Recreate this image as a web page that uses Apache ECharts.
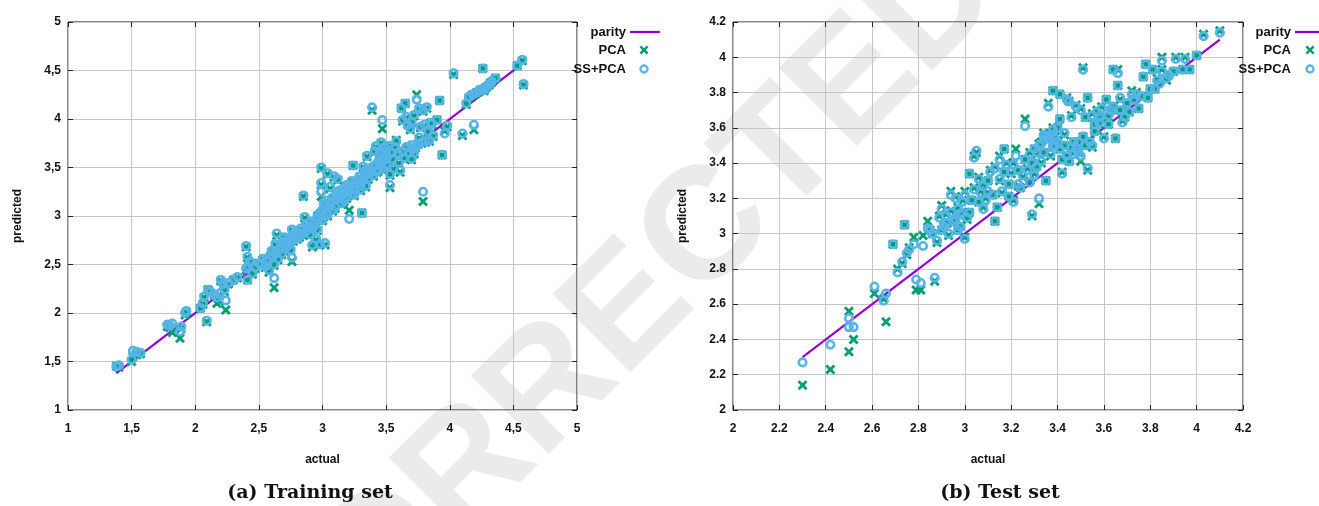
<!DOCTYPE html>
<html>
<head>
<meta charset="utf-8">
<script src="https://cdn.jsdelivr.net/npm/echarts@6/dist/echarts.min.js"></script>
<style>
  html, body { margin: 0; padding: 0; background: #fff; }
  #chart { width: 1319px; height: 506px; }
</style>
</head>
<body>
<div id="chart"></div>
<script>
// ---- training set: actual value, PCA prediction, SS+PCA prediction ----
const trainActual = [1.38,1.40,1.50,1.51,1.54,1.57,1.78,1.80,1.82,1.88,1.89,1.92,1.93,2.04,2.06,2.09,2.07,2.10,2.12,2.15,2.17,2.19,2.20,2.22,2.24,2.23,2.26,2.30,2.33,2.40,2.41,2.40,2.41,2.42,2.43,2.50,2.52,2.55,2.57,2.58,2.59,2.60,2.62,2.62,2.63,2.64,2.65,2.66,2.68,2.69,2.70,2.72,2.74,2.75,2.76,2.76,2.78,2.80,2.81,2.83,2.85,2.86,2.87,2.88,2.90,2.91,2.92,2.93,2.95,2.96,2.97,2.98,2.99,2.99,2.99,3.00,3.01,3.02,3.02,3.03,3.04,3.05,3.06,3.07,3.08,3.09,3.10,3.12,3.12,3.13,3.15,3.16,3.18,3.19,3.20,3.21,3.22,3.23,3.24,3.25,3.26,3.28,3.30,3.31,3.32,3.33,3.34,3.35,3.36,3.38,3.39,3.40,3.41,3.42,3.43,3.44,3.46,3.47,3.47,3.48,3.49,3.50,3.52,3.53,3.53,3.55,3.56,3.58,3.59,3.60,3.61,3.62,3.64,3.65,3.66,3.67,3.68,3.69,3.70,3.71,3.73,3.74,3.75,3.76,3.77,3.78,3.79,3.80,3.81,3.82,3.84,3.85,3.87,3.90,3.92,3.94,3.96,3.98,4.03,4.10,4.13,4.15,4.19,4.21,4.24,4.26,4.27,4.29,4.31,4.33,4.36,4.53,4.57,4.58,
  2.56,2.61,2.63,2.67,2.71,2.73,2.77,2.79,2.82,2.84,2.89,2.94,2.96,2.98,3.00,3.01,3.03,3.04,3.06,3.08,3.10,3.11,3.14,3.16,3.17,3.19,3.21,3.23,3.25,3.27,3.29,3.30,3.32,3.34,3.35,3.37,3.40,3.42,3.44,3.45,3.46,3.48,3.50,3.51,3.54,3.57,3.60,3.63,3.66,3.70,3.72,3.76,2.45,2.47,2.53,3.63,3.72,3.79,3.86,3.83,3.70,4.18,4.23,4.28,4.32];
const trainPCA = [1.45,1.44,1.50,1.55,1.57,1.58,1.86,1.85,1.80,1.74,1.84,1.98,2.01,2.05,2.09,1.91,2.16,2.24,2.21,2.18,2.10,2.12,2.33,2.28,2.03,2.22,2.30,2.34,2.36,2.68,2.57,2.44,2.34,2.48,2.52,2.51,2.49,2.47,2.52,2.42,2.58,2.63,2.26,2.49,2.70,2.80,2.55,2.64,2.60,2.72,2.77,2.67,2.73,2.64,2.53,2.85,2.80,2.76,2.82,2.86,3.20,2.98,2.90,2.84,2.80,2.93,2.68,2.88,2.75,3.00,2.96,2.70,3.49,3.32,3.20,3.05,2.99,2.70,3.10,3.02,3.43,3.08,3.28,3.13,3.05,3.40,3.16,3.37,3.20,3.25,3.12,3.22,3.28,3.18,3.25,3.06,3.30,3.22,3.52,3.33,3.27,3.36,3.30,3.03,3.50,3.40,3.46,3.61,3.38,3.44,4.09,3.50,3.66,3.71,3.45,3.55,3.75,3.90,3.48,3.62,3.70,3.52,3.72,3.29,3.42,3.58,3.48,3.78,3.64,3.54,3.45,4.11,3.59,4.16,4.01,3.94,3.64,3.89,3.58,3.68,3.70,4.25,3.74,4.10,3.91,3.75,3.15,3.93,3.76,4.11,3.77,3.96,3.82,3.99,4.19,3.63,3.88,3.92,4.46,3.83,4.15,4.22,3.89,4.27,4.30,4.52,4.29,4.33,4.35,4.38,4.42,4.55,4.60,4.35,
  2.54,2.57,2.61,2.68,2.70,2.76,2.74,2.83,2.78,2.81,2.88,2.92,2.85,3.02,2.95,3.12,3.15,3.00,3.11,3.18,3.08,3.22,3.17,3.27,3.15,3.31,3.24,3.35,3.21,3.32,3.40,3.26,3.36,3.30,3.42,3.48,3.41,3.52,3.47,3.64,3.53,3.56,3.66,3.60,3.64,3.70,3.62,3.66,3.70,3.72,3.64,3.80,2.40,2.46,2.55,3.98,4.03,4.08,3.94,3.86,3.96,4.25,4.28,4.32,4.37];
const trainSS = [1.45,1.46,1.52,1.61,1.60,1.59,1.88,1.87,1.89,1.81,1.86,2.00,2.02,2.05,2.10,1.92,2.17,2.24,2.22,2.19,2.16,2.20,2.34,2.30,2.13,2.24,2.31,2.34,2.37,2.69,2.58,2.46,2.34,2.48,2.53,2.51,2.50,2.48,2.53,2.44,2.60,2.64,2.36,2.50,2.71,2.82,2.56,2.65,2.61,2.73,2.78,2.68,2.74,2.65,2.57,2.86,2.81,2.77,2.83,2.87,3.21,2.99,2.91,2.85,2.81,2.94,2.70,2.89,2.76,3.00,2.97,2.71,3.50,3.34,3.25,3.06,3.00,2.72,3.11,3.03,3.44,3.09,3.30,3.14,3.06,3.41,3.17,3.38,3.21,3.26,3.13,3.23,3.29,3.19,3.26,2.97,3.31,3.23,3.52,3.34,3.28,3.37,3.31,3.03,3.51,3.41,3.47,3.62,3.39,3.45,4.12,3.51,3.67,3.72,3.46,3.56,3.76,3.99,3.49,3.63,3.71,3.53,3.72,3.32,3.43,3.59,3.49,3.77,3.65,3.55,3.47,4.11,3.60,4.16,4.02,3.94,3.65,3.90,3.59,3.69,3.71,4.20,3.74,4.11,3.92,3.76,3.25,3.94,3.77,4.12,3.78,3.96,3.83,3.99,4.19,3.63,3.85,3.93,4.47,3.85,4.16,4.23,3.94,4.27,4.30,4.52,4.30,4.34,4.35,4.39,4.42,4.55,4.61,4.36,
  2.55,2.58,2.62,2.69,2.71,2.77,2.75,2.84,2.79,2.82,2.89,2.93,2.86,3.03,2.96,3.13,3.16,3.01,3.12,3.19,3.09,3.23,3.18,3.28,3.16,3.32,3.25,3.36,3.22,3.33,3.41,3.27,3.37,3.31,3.43,3.49,3.42,3.53,3.48,3.65,3.54,3.57,3.67,3.61,3.65,3.71,3.63,3.67,3.71,3.73,3.65,3.81,2.41,2.47,2.56,3.99,4.04,4.09,3.95,3.87,3.97,4.25,4.29,4.32,4.37];
const trainParity = [1.38, 4.52];

// ---- test set ----
const testActual = [2.30,2.42,2.50,2.50,2.52,2.61,2.65,2.66,2.69,2.71,2.73,2.74,2.75,2.76,2.78,2.79,2.81,2.82,2.84,2.85,2.87,2.88,2.89,2.90,2.91,2.92,2.93,2.94,2.95,2.96,2.97,2.98,2.98,2.99,3.00,3.00,3.01,3.02,3.03,3.04,3.05,3.06,3.07,3.08,3.09,3.10,3.11,3.13,3.13,3.14,3.15,3.16,3.17,3.18,3.19,3.20,3.21,3.22,3.23,3.24,3.25,3.26,3.27,3.28,3.29,3.29,3.30,3.31,3.32,3.32,3.33,3.34,3.35,3.36,3.36,3.37,3.38,3.38,3.39,3.40,3.41,3.41,3.42,3.42,3.43,3.44,3.45,3.45,3.46,3.46,3.47,3.48,3.49,3.50,3.50,3.51,3.52,3.53,3.53,3.54,3.55,3.56,3.57,3.58,3.60,3.61,3.62,3.63,3.64,3.65,3.66,3.66,3.67,3.68,3.69,3.71,3.72,3.73,3.75,3.77,3.78,3.79,3.81,3.82,3.84,3.85,3.85,3.87,3.88,3.90,3.91,3.94,3.95,3.97,4.00,4.03,4.10,
  3.02,3.04,3.06,3.08,3.10,3.12,3.15,3.17,3.19,3.21,3.23,3.26,3.28,3.30,3.31,3.33,3.34,3.35,3.37,3.38,3.39,3.40,3.41,3.43,3.44,3.47,3.48,3.49,3.51,3.52,3.55,3.56,3.58,3.59,3.62,3.64,3.67,3.70,3.74,3.76,3.80,3.83,2.86,2.90,2.92,2.94,2.96,2.97,2.99];
const testPCA = [2.14,2.23,2.56,2.33,2.40,2.66,2.63,2.50,2.94,2.80,2.83,3.05,2.88,2.92,2.98,2.68,2.68,2.99,3.07,3.02,2.73,2.95,3.10,3.16,3.04,3.11,2.99,3.24,3.06,3.21,3.15,3.10,3.04,3.19,2.98,3.24,3.08,3.34,3.19,3.44,3.46,3.32,3.24,3.15,3.20,3.23,3.36,3.38,3.07,3.15,3.44,3.23,3.48,3.40,3.21,3.34,3.19,3.48,3.27,3.26,3.32,3.65,3.37,3.30,3.10,3.40,3.34,3.45,3.17,3.51,3.40,3.57,3.30,3.53,3.74,3.44,3.60,3.81,3.49,3.53,3.79,3.65,3.42,3.35,3.56,3.77,3.41,3.75,3.49,3.67,3.46,3.73,3.52,3.71,3.41,3.94,3.66,3.77,3.36,3.53,3.49,3.62,3.70,3.62,3.55,3.76,3.66,3.70,3.93,3.54,3.93,3.84,3.76,3.64,3.66,3.69,3.81,3.76,3.71,3.89,3.96,3.77,3.93,3.82,3.86,4.00,3.93,3.87,3.90,3.92,4.00,3.93,4.00,3.93,4.01,4.13,4.15,
  3.12,3.26,3.18,3.28,3.30,3.22,3.30,3.35,3.28,3.40,3.36,3.42,3.46,3.48,3.38,3.52,3.46,3.55,3.56,3.50,3.55,3.60,3.48,3.50,3.44,3.52,3.48,3.46,3.55,3.50,3.68,3.58,3.66,3.72,3.62,3.72,3.70,3.74,3.80,3.78,3.82,3.88,3.00,3.02,3.06,3.13,3.08,3.02,3.12];
const testSS = [2.27,2.37,2.52,2.47,2.47,2.70,2.62,2.66,2.94,2.78,2.84,3.05,2.89,2.91,2.94,2.74,2.72,2.93,3.03,3.02,2.75,2.96,3.09,3.14,3.04,3.10,3.00,3.22,3.07,3.20,3.14,3.11,3.04,3.18,2.97,3.22,3.09,3.34,3.19,3.43,3.47,3.31,3.23,3.14,3.19,3.24,3.35,3.37,3.07,3.15,3.42,3.24,3.48,3.39,3.21,3.35,3.18,3.44,3.28,3.26,3.33,3.61,3.36,3.29,3.11,3.40,3.33,3.46,3.20,3.50,3.41,3.56,3.30,3.54,3.72,3.45,3.59,3.81,3.50,3.52,3.79,3.65,3.42,3.34,3.57,3.76,3.41,3.75,3.49,3.66,3.45,3.72,3.52,3.70,3.44,3.93,3.66,3.77,3.37,3.52,3.50,3.62,3.69,3.63,3.54,3.76,3.67,3.70,3.93,3.54,3.91,3.84,3.77,3.63,3.66,3.69,3.79,3.76,3.71,3.89,3.96,3.77,3.93,3.82,3.85,3.98,3.92,3.88,3.90,3.92,3.99,3.93,3.99,3.93,4.01,4.12,4.14,
  3.12,3.25,3.18,3.27,3.30,3.22,3.31,3.35,3.28,3.39,3.36,3.42,3.45,3.48,3.38,3.51,3.46,3.55,3.56,3.50,3.54,3.60,3.48,3.50,3.44,3.52,3.48,3.46,3.55,3.50,3.67,3.58,3.66,3.71,3.62,3.72,3.70,3.74,3.79,3.78,3.82,3.87,3.00,3.02,3.06,3.12,3.08,3.02,3.12];
const testParity = [2.30, 4.10];

// axis ranges and tick steps
const trainRange = { min: 1, max: 5, step: 0.5 };
const testRange = { min: 2, max: 4.2, step: 0.2 };

const PURPLE = '#9400d3', GREEN = '#009e73', BLUE = '#56b4e9';
const SANS = 'Liberation Sans, Arial, sans-serif';
// outline of a thick "x" on a 10x10 box
const CROSS_PTS = [[2,0],[5,3],[8,0],[10,2],[7,5],[10,8],[8,10],[5,7],[2,10],[0,8],[3,5],[0,2]];
const CROSS = 'path://M' + CROSS_PTS.map(p => p.join(',')).join('L') + 'Z';

const pairs = (xs, ys) => xs.map((x, i) => [x, ys[i]]);
const commaFmt = v => String(+v.toFixed(2)).replace('.', ',');
const dotFmt = v => String(+v.toFixed(2));

function valueAxis(range, idx, pos, fmt, name) {
  const horizontal = pos === 'bottom' || pos === 'top';
  const mirror = pos === 'top' || pos === 'right';
  return {
    type: 'value', gridIndex: idx, position: pos,
    min: range.min, max: range.max, interval: range.step,
    axisLine: { show: false },
    axisTick: { show: true, inside: true, length: 5, lineStyle: { color: '#222', width: 1 } },
    axisLabel: mirror ? { show: false } : {
      show: true, formatter: fmt, color: '#111', fontFamily: SANS, fontWeight: 'bold',
      fontSize: 12, margin: horizontal ? 13 : 7
    },
    splitLine: { show: !mirror, lineStyle: { color: '#c6c6c6', width: 1 } },
    name: mirror ? '' : name,
    nameLocation: 'middle',
    nameGap: 44,
    nameRotate: horizontal ? 0 : 90,
    nameTextStyle: { color: '#111', fontFamily: SANS, fontSize: 12, fontWeight: 'bold' }
  };
}

function panelSeries(xi, yi, actual, pca, ss, parity) {
  return [
    {
      name: 'parity', type: 'line', xAxisIndex: xi, yAxisIndex: yi,
      data: parity.map(v => [v, v]), showSymbol: false, symbol: 'none',
      lineStyle: { color: PURPLE, width: 2.2 }, z: 2
    },
    {
      name: 'PCA', type: 'scatter', xAxisIndex: xi, yAxisIndex: yi,
      data: pairs(actual, pca), symbol: CROSS, symbolSize: 10,
      itemStyle: { color: GREEN, opacity: 1 }, z: 3
    },
    {
      name: 'SS+PCA', type: 'scatter', xAxisIndex: xi, yAxisIndex: yi,
      data: pairs(actual, ss), symbol: 'circle', symbolSize: 7.5,
      itemStyle: { color: 'rgba(0,0,0,0)', borderColor: BLUE, borderWidth: 2.6, opacity: 1 }, z: 4
    }
  ];
}

// gnuplot-style key: right-aligned text followed by its sample
function keyGraphics(textRight, sampleX) {
  const rows = [32, 50, 69];
  const t = (s, y) => ({
    type: 'text', x: textRight, y: y, z: 10,
    style: { text: s, textAlign: 'right', textVerticalAlign: 'middle', fill: '#111',
      font: 'bold 13px ' + SANS }
  });
  return [
    t('parity', rows[0]),
    { type: 'line', z: 10, shape: { x1: textRight + 4, y1: rows[0], x2: textRight + 34, y2: rows[0] },
      style: { stroke: PURPLE, lineWidth: 2.2 } },
    t('PCA', rows[1]),
    { type: 'polygon', z: 10,
      shape: { points: CROSS_PTS.map(p => [sampleX - 4.5 + p[0] * 0.9, rows[1] - 4.5 + p[1] * 0.9]) },
      style: { fill: GREEN } },
    t('SS+PCA', rows[2]),
    { type: 'circle', z: 10, shape: { cx: sampleX, cy: rows[2], r: 3.5 },
      style: { fill: 'none', stroke: BLUE, lineWidth: 2.3 } }
  ];
}

const chart = echarts.init(document.getElementById('chart'), null, { renderer: 'canvas' });

chart.setOption({
  animation: false,
  backgroundColor: '#fff',
  grid: [
    { left: 68, top: 22, width: 509, height: 388, show: true, borderColor: '#111', borderWidth: 1, backgroundColor: 'transparent' },
    { left: 733, top: 22, width: 510, height: 388, show: true, borderColor: '#111', borderWidth: 1, backgroundColor: 'transparent' }
  ],
  xAxis: [
    valueAxis(trainRange, 0, 'bottom', commaFmt, 'actual'),
    valueAxis(trainRange, 0, 'top', commaFmt, ''),
    valueAxis(testRange, 1, 'bottom', dotFmt, 'actual'),
    valueAxis(testRange, 1, 'top', dotFmt, '')
  ],
  yAxis: [
    valueAxis(trainRange, 0, 'left', commaFmt, 'predicted'),
    valueAxis(trainRange, 0, 'right', commaFmt, ''),
    valueAxis(testRange, 1, 'left', dotFmt, 'predicted'),
    valueAxis(testRange, 1, 'right', dotFmt, '')
  ],
  series: [
    ...panelSeries(0, 0, trainActual, trainPCA, trainSS, trainParity),
    ...panelSeries(2, 2, testActual, testPCA, testSS, testParity)
  ],
  graphic: [
    {
      // proof watermark, running diagonally behind both panels
      type: 'text', x: 975, y: -35, rotation: Math.PI / 4, z: -1, silent: true,
      style: { text: 'UNCORRECTED', textAlign: 'right', textVerticalAlign: 'middle',
        fill: '#ebebeb', font: 'bold 160px ' + SANS }
    },
    ...keyGraphics(626, 644),
    ...keyGraphics(1291, 1310),
    {
      type: 'text', x: 310, y: 493, z: 10,
      style: { text: '(a) Training set', textAlign: 'center', textVerticalAlign: 'middle',
        fill: '#111', font: 'bold 19px DejaVu Serif, serif' }
    },
    {
      type: 'text', x: 1000, y: 493, z: 10,
      style: { text: '(b) Test set', textAlign: 'center', textVerticalAlign: 'middle',
        fill: '#111', font: 'bold 19px DejaVu Serif, serif' }
    }
  ]
});
</script>
</body>
</html>
